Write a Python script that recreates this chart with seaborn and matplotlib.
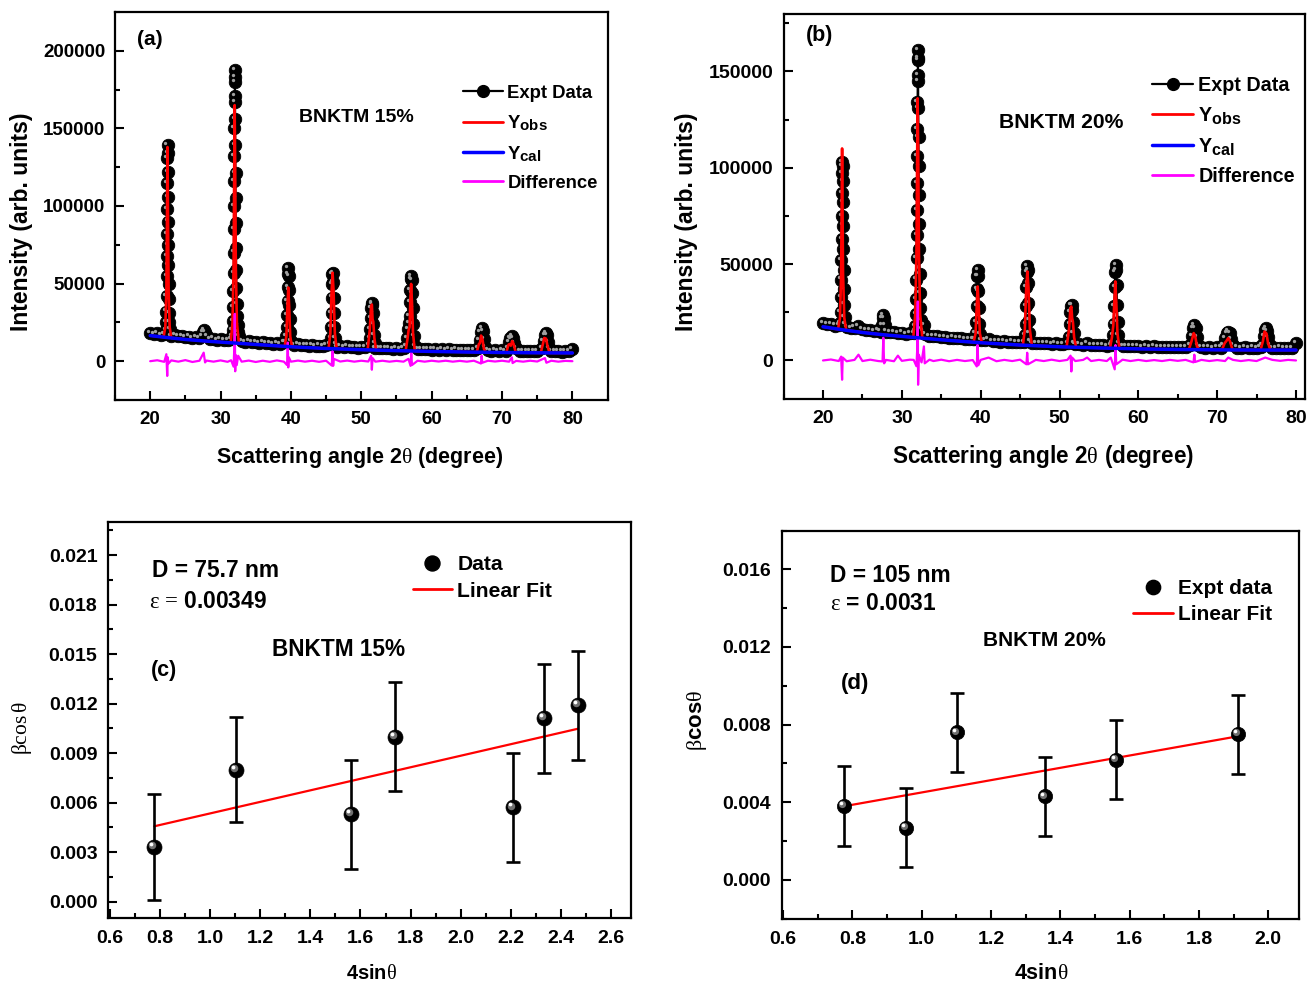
import numpy as np
import pandas as pd
import matplotlib
matplotlib.use("Agg")
import matplotlib.pyplot as plt
import matplotlib.transforms as mtransforms
from matplotlib.lines import Line2D
from matplotlib.ticker import MultipleLocator, FormatStrFormatter
import seaborn as sns

try:
    import matplotlib._mathtext as _mt
    _mt.SHRINK_FACTOR = 0.82
except Exception:
    pass

# ---------------- data: panel (a) BNKTM 15% ----------------
a_bg_tt = [20.0, 20.5, 21.0, 21.5, 22.0, 23.0, 23.5, 24.0, 24.5, 25.0, 25.5, 26.0, 26.5, 27.0,
           28.5, 29.0, 29.5, 30.0, 30.5, 31.0, 31.5, 33.0, 33.5, 34.0, 34.5, 35.0, 35.5, 36.0,
           36.5, 37.0, 37.5, 38.0, 38.5, 39.0, 40.5, 41.0, 41.5, 42.0, 42.5, 43.0, 43.5, 44.0,
           44.5, 45.0, 46.5, 47.0, 47.5, 48.0, 48.5, 49.0, 49.5, 50.0, 50.5, 52.0, 52.5, 53.0,
           53.5, 54.0, 54.5, 55.0, 55.5, 56.0, 58.0, 58.5, 59.0, 59.5, 60.0, 60.5, 61.0, 61.5,
           62.0, 62.5, 63.0, 63.5, 64.0, 64.5, 65.0, 65.5, 66.0, 68.0, 68.5, 69.0, 69.5, 70.0,
           70.5, 72.5, 73.0, 73.5, 74.0, 74.5, 75.0, 77.0, 77.5, 78.0, 78.5, 79.0, 79.5, 80.0]
a_bg_int = [18200, 17600, 17900, 17100, 17300, 16400, 16900, 16000, 16300, 15400, 15900, 15100, 15600, 14800,
            14300, 14600, 13800, 14100, 13600, 13900, 14500, 13000, 12600, 12900, 12200, 12500, 11900, 12200,
            11600, 11900, 11300, 11600, 11100, 12500, 10600, 10900, 10300, 10600, 10100, 10400, 9800, 10100,
            9600, 10200, 9400, 9700, 9200, 9500, 9000, 9300, 8800, 9100, 9000, 8700, 8400, 8700,
            8200, 8500, 8000, 8300, 8000, 8600, 7900, 8100, 7700, 8000, 7500, 7800, 7400, 7700,
            7300, 7600, 7200, 7500, 7100, 7400, 7000, 7300, 7400, 7000, 6800, 7100, 6700, 7000,
            6800, 6800, 6500, 6800, 6400, 6700, 6500, 6600, 6300, 6600, 6200, 6500, 6300, 8000]
a_pk_tt = [22.20, 22.26, 22.30, 22.33, 22.36, 22.38, 22.40, 22.42, 22.44, 22.46, 22.47, 22.49, 22.51,
           22.53, 22.55, 22.57, 22.59, 22.62, 22.65, 22.68, 22.72, 22.78,
           27.40, 27.55, 27.70, 27.85, 28.05,
           31.62, 31.70, 31.75, 31.80, 31.83, 31.86, 31.88, 31.90, 31.92, 31.94, 31.96, 31.98, 32.00,
           32.02, 32.03, 32.05, 32.07, 32.09, 32.11, 32.13, 32.15, 32.17, 32.20, 32.23, 32.26, 32.30,
           32.35, 32.42, 32.50, 32.60,
           39.20, 39.35, 39.42, 39.47, 39.52, 39.56, 39.60, 39.63, 39.67, 39.71, 39.75, 39.80, 39.88, 40.00,
           45.55, 45.65, 45.72, 45.77, 45.82, 45.86, 45.90, 45.95, 46.00, 46.05, 46.10, 46.15, 46.22, 46.35,
           51.10, 51.20, 51.28, 51.35, 51.42, 51.50, 51.58, 51.66, 51.73, 51.80, 51.90,
           56.40, 56.55, 56.65, 56.75, 56.85, 56.92, 56.98, 57.05, 57.12, 57.20, 57.27, 57.33, 57.40, 57.48, 57.60,
           66.60, 66.80, 66.95, 67.10, 67.25, 67.40, 67.60,
           70.85, 71.00, 71.15, 71.30, 71.45, 71.60, 71.75, 71.95,
           75.70, 75.90, 76.05, 76.20, 76.35, 76.50, 76.70]
a_pk_int = [20000, 25000, 32000, 42000, 55000, 68000, 82000, 98000, 115000, 131000, 139000, 134000, 122000,
            106000, 90000, 75000, 62000, 50000, 40000, 31000, 25000, 20500,
            16500, 19000, 20000, 18500, 16000,
            16500, 20000, 26000, 35000, 45000, 57000, 70000, 85000, 100000, 116000, 132000, 150000, 167000,
            180000, 187500, 183000, 171000, 156000, 139000, 121000, 105000, 89000, 73000, 59000, 47000, 37000,
            29000, 23000, 19000, 16500,
            12500, 16000, 22000, 30000, 39000, 48000, 56000, 60000, 55000, 46000, 36000, 27000, 19000, 13000,
            11000, 15000, 22000, 31000, 41000, 50000, 56000, 57000, 51000, 41000, 31000, 22000, 15000, 11000,
            10500, 15000, 21000, 28000, 34000, 37500, 36500, 31000, 24000, 17000, 11500,
            9500, 15000, 21000, 24500, 29000, 38000, 46000, 53000, 55000, 52000, 44000, 34000, 24000, 16000, 10000,
            8500, 13500, 18500, 21500, 19500, 14000, 9000,
            8500, 12500, 15000, 14500, 16200, 15000, 11500, 8500,
            8500, 13000, 17000, 18300, 17000, 12500, 8500]
a_red_tt = [20.0, 21.9, 22.15, 22.30, 22.40, 22.46, 22.52, 22.62, 22.77, 23.0, 27.5,
            31.45, 31.70, 31.85, 31.95, 32.00, 32.07, 32.17, 32.32, 32.60,
            39.10, 39.35, 39.50, 39.62, 39.75, 39.90, 40.15,
            45.35, 45.60, 45.78, 45.92, 46.06, 46.24, 46.50,
            50.90, 51.20, 51.38, 51.50, 51.60, 51.70, 51.85, 52.10,
            56.30, 56.55, 56.72, 56.86, 56.97, 57.08, 57.20, 57.35, 57.60,
            66.40, 66.70, 66.85, 67.02, 67.22, 67.42, 67.70,
            70.60, 70.90, 71.05, 71.25, 71.45, 71.65, 71.95,
            75.50, 75.80, 76.00, 76.25, 76.45, 76.75, 80.0]
a_red_int = [16500, 15510, 22000, 45000, 100000, 138000, 100000, 45000, 22000, 14950, 13100,
             11870, 25000, 60000, 130000, 165000, 130000, 60000, 25000, 11520,
             9570, 16000, 35000, 47500, 35000, 16000, 9270,
             8140, 18000, 45000, 57000, 45000, 18000, 7960,
             7290, 20000, 35000, 36500, 27000, 25500, 15000, 7150,
             6670, 14000, 20000, 22000, 40000, 49800, 38000, 18000, 6540,
             5820, 11000, 11500, 16500, 14000, 8000, 5740,
             5580, 10500, 11000, 10000, 13000, 11000, 5520,
             5380, 11000, 15000, 14500, 10000, 5340, 5300]
a_blue_tt = [20.0, 22.5, 25.0, 27.5, 30.0, 35.0, 40.0, 45.0, 50.0, 55.0, 60.0, 65.0, 70.0, 75.0, 80.0]
a_blue_int = [16500, 15200, 14000, 13100, 12300, 10800, 9300, 8200, 7400, 6800, 6300, 5900, 5600, 5400, 5300]
a_diff_tt = [20, 21, 22, 22.3, 22.42, 22.5, 22.6, 23, 24, 25, 26, 27, 27.6, 27.8, 28, 29, 30, 31, 31.5,
             31.85, 31.95, 32.02, 32.08, 32.15, 32.3, 32.5, 33, 34, 35, 36, 37, 38, 39,
             39.45, 39.55, 39.62, 39.7, 40, 41, 42, 43, 44, 45, 45.8, 45.9, 46.0, 46.1, 47, 48, 49, 50, 51,
             51.4, 51.5, 51.6, 52, 53, 54, 55, 56, 56.7, 57.0, 57.1, 57.2, 58, 59, 60, 61, 62, 63, 64, 65, 66,
             67.0, 67.1, 67.2, 68, 69, 70, 71, 71.4, 71.5, 72, 73, 74, 75, 76.1, 76.3, 77, 78, 79, 80]
a_diff_int = [0, 600, -400, 4500, -9500, 2500, -1500, 500, -300, 700, -500, 300, 5500, -800, 400, -300, 500, -400, 600,
              -3500, 8000, 30500, -6500, 4000, -2500, 3500, -300, 400, -500, 300, -400, 500, -300,
              -2500, 12000, -4000, 2500, -300, 400, -300, 300, -400, 300, -2800, 6500, -3000, 1500, -200, 400, -300, 300, -200,
              3500, -5500, 2000, -300, 300, -300, 200, -300, 1500, -3000, 5500, -2500, 300, -300, 300, -200, 300, -300, 200, -300, 300,
              -1500, 3500, -1000, 300, -200, 300, -300, 2500, -1200, 200, -300, 300, -200, 2000, -1000, 300, -300, 200, 0]

# ---------------- data: panel (b) BNKTM 20% ----------------
b_bg_tt = [20.0, 20.5, 21.0, 21.5, 22.0, 23.0, 23.5, 24.0, 24.5, 25.0, 25.5, 26.0, 26.5, 27.0,
           28.5, 29.0, 29.5, 30.0, 30.5, 31.0, 31.5, 33.0, 33.5, 34.0, 34.5, 35.0, 35.5, 36.0,
           36.5, 37.0, 37.5, 38.0, 38.5, 39.0, 40.5, 41.0, 41.5, 42.0, 42.5, 43.0, 43.5, 44.0,
           44.5, 45.0, 46.5, 47.0, 47.5, 48.0, 48.5, 49.0, 49.5, 50.0, 50.5, 52.0, 52.5, 53.0,
           53.5, 54.0, 54.5, 55.0, 55.5, 56.0, 56.5, 58.0, 58.5, 59.0, 59.5, 60.0, 60.5, 61.0,
           61.5, 62.0, 62.5, 63.0, 63.5, 64.0, 64.5, 65.0, 65.5, 66.0, 68.0, 68.5, 69.0, 69.5,
           70.0, 70.5, 72.5, 73.0, 73.5, 74.0, 74.5, 75.0, 75.5, 77.0, 77.5, 78.0, 78.5, 79.0,
           79.5, 80.0]
b_bg_int = [19200, 18700, 18900, 18100, 18300, 17300, 16900, 17100, 17800, 16200, 15800, 16000, 15400, 15600,
            14700, 14900, 14300, 14500, 13900, 14100, 14000, 13500, 12900, 12500, 12700, 12100, 12300, 11700,
            11900, 11400, 11600, 11100, 11300, 11000, 10400, 11300, 10100, 10300, 9800, 10000, 9600, 9800,
            9400, 9600, 9200, 9000, 9200, 8800, 9000, 8600, 8800, 8500, 8700, 8300, 8500, 8100,
            8900, 8000, 8100, 7800, 8000, 7700, 8200, 7700, 7500, 7700, 7300, 7500, 7200, 7400,
            7100, 7300, 7000, 7200, 6900, 7100, 6900, 7000, 6800, 7000, 6900, 6700, 6900, 6600,
            6800, 6700, 6700, 6500, 6800, 6400, 6700, 6500, 6800, 6600, 6400, 6700, 6300, 6600,
            6400, 9000]
b_pk_tt = [22.15, 22.22, 22.27, 22.31, 22.34, 22.37, 22.39, 22.41, 22.43, 22.45, 22.48, 22.50, 22.52,
           22.54, 22.57, 22.60, 22.63, 22.67, 22.73, 22.85,
           27.30, 27.45, 27.55, 27.65, 27.75, 27.85, 28.00,
           31.62, 31.70, 31.75, 31.80, 31.83, 31.86, 31.88, 31.90, 31.92, 31.94, 31.96, 31.98, 32.00,
           32.02, 32.04, 32.06, 32.08, 32.10, 32.12, 32.14, 32.17, 32.20, 32.23, 32.27, 32.31, 32.36,
           32.43, 32.55, 32.70, 32.85,
           39.20, 39.35, 39.43, 39.49, 39.54, 39.58, 39.63, 39.68, 39.72, 39.77, 39.83, 39.92, 40.05,
           45.50, 45.62, 45.70, 45.76, 45.81, 45.86, 45.91, 45.96, 46.01, 46.06, 46.11, 46.18, 46.30,
           51.10, 51.20, 51.30, 51.38, 51.46, 51.54, 51.62, 51.70, 51.78, 51.90,
           56.65, 56.75, 56.85, 56.93, 56.99, 57.05, 57.12, 57.19, 57.25, 57.31, 57.38, 57.47, 57.60,
           66.60, 66.80, 66.95, 67.10, 67.25, 67.40, 67.60,
           70.80, 71.00, 71.20, 71.40, 71.60, 71.80, 72.00,
           75.70, 75.90, 76.05, 76.20, 76.35, 76.50, 76.70]
b_pk_int = [19500, 25000, 33000, 42000, 52000, 63000, 75000, 87000, 97000, 103000, 101000, 93000, 82000,
            70000, 58000, 47000, 37000, 29000, 22500, 19000,
            15000, 18500, 22000, 23700, 22000, 18500, 15000,
            15000, 18000, 24000, 32000, 42000, 53000, 65000, 78000, 92000, 106000, 120000, 134000, 148000,
            157000, 161000, 156000, 145000, 131000, 116000, 101000, 86000, 71000, 58000, 45000, 35000, 27000,
            21000, 16500, 15500, 18500,
            11000, 14000, 20000, 28000, 37000, 44000, 47000, 44000, 36000, 27000, 19000, 13500, 10500,
            9500, 13000, 19000, 28000, 38000, 46000, 48800, 47000, 40000, 30000, 21000, 14000, 10000,
            8800, 12000, 19000, 25000, 28500, 28900, 26000, 20000, 14000, 9000,
            9000, 13000, 19000, 28000, 38000, 46000, 49700, 47000, 39000, 29000, 20000, 13000, 9000,
            8000, 12500, 17000, 18500, 17000, 12000, 8000,
            7800, 11500, 14000, 15000, 14000, 11000, 8000,
            8000, 12500, 16000, 16800, 15500, 12000, 8000]
b_red_tt = [20.0, 21.9, 22.15, 22.30, 22.42, 22.54, 22.70, 22.95, 27.5,
            31.45, 31.70, 31.85, 31.95, 32.00, 32.07, 32.17, 32.32, 32.60,
            39.10, 39.35, 39.50, 39.62, 39.75, 39.90, 40.15,
            45.35, 45.60, 45.78, 45.92, 46.06, 46.24, 46.50,
            50.90, 51.20, 51.38, 51.50, 51.60, 51.70, 51.85, 52.10,
            56.40, 56.65, 56.82, 56.97, 57.08, 57.20, 57.35, 57.60,
            66.40, 66.75, 67.02, 67.22, 67.42, 67.70,
            70.60, 70.95, 71.15, 71.40, 71.62, 71.95,
            75.50, 75.80, 76.00, 76.25, 76.45, 76.75, 80.0]
b_red_int = [17500, 16140, 22000, 45000, 110000, 45000, 22000, 15650, 13400,
             11980, 24000, 55000, 110000, 136000, 110000, 55000, 24000, 11560,
             9470, 14000, 28000, 38400, 28000, 14000, 9160,
             7940, 16000, 38000, 46200, 38000, 16000, 7730,
             7000, 16000, 27000, 28000, 22000, 20000, 12000, 6850,
             6360, 12000, 18000, 32000, 41000, 30000, 14000, 6240,
             5640, 10000, 14200, 12500, 7500, 5590,
             5490, 9000, 10000, 11600, 10000, 5460,
             5400, 10000, 15000, 14000, 9000, 5400, 5400]
b_blue_tt = [20.0, 22.5, 25.0, 27.5, 30.0, 35.0, 40.0, 45.0, 50.0, 55.0, 60.0, 65.0, 70.0, 75.0, 80.0]
b_blue_int = [17500, 15900, 14500, 13400, 12500, 10700, 9200, 8000, 7100, 6500, 6000, 5700, 5500, 5400, 5400]
b_diff_tt = [20, 21, 22, 22.3, 22.42, 22.5, 23, 24, 24.5, 25, 26, 27, 27.55, 27.65, 27.75, 28, 29, 29.5, 30,
             31, 31.5, 31.85, 31.95, 32.02, 32.06, 32.15, 32.5, 32.8, 32.9, 33.5, 34, 35, 36, 37, 38, 39,
             39.5, 39.6, 39.7, 40, 41, 42, 43, 44, 45, 45.8, 45.9, 46.0, 47, 48, 49, 50, 51,
             51.4, 51.5, 51.6, 52, 53, 53.5, 54, 55, 56, 56.5, 57.0, 57.1, 57.2, 58, 59, 60, 61, 62, 63, 64,
             65, 66, 67.0, 67.1, 67.2, 68, 69, 70, 71, 71.4, 72, 73, 74, 75, 76.1, 77, 78, 79, 80]
b_diff_int = [0, 500, -300, 2000, -10000, 1500, -400, 300, 3000, -300, 400, -300, -500, 11800, -1500, 300, -400, 2500, -200,
              400, 300, -3000, 6000, 30600, -12600, 3000, -1000, 7300, -1500, 400, -300, 400, -400, 300, -300, 200,
              -3100, 8100, -2500, 300, 1500, -400, 300, -300, 400, -2000, 4000, -2000, 300, -300, 400, -300, 300,
              2500, -5700, 1500, -300, 300, 1500, -300, 300, -300, 1500, -4600, 8000, -2000, 400, -300, 300, -300, 200, -300, 300,
              -200, 300, -1000, 3000, -800, 300, -300, 200, -300, 1500, 300, -300, 200, -300, 1500, 300, -200, 300, 0]

# ---------------- data: panel (c) Williamson-Hall, 15% ----------------
c_x = [0.777, 1.103, 1.563, 1.738, 2.208, 2.334, 2.468]
c_y = [0.0033, 0.0080, 0.0053, 0.0100, 0.0057, 0.0111, 0.0119]
c_err = [0.0032, 0.0032, 0.0033, 0.0033, 0.0033, 0.0033, 0.0033]
c_fit_x = [0.777, 2.468]
c_fit_y = [0.00456, 0.01047]

# ---------------- data: panel (d) Williamson-Hall, 20% ----------------
d_x = [0.777, 0.955, 1.103, 1.355, 1.560, 1.912]
d_y = [0.0038, 0.0027, 0.0076, 0.0043, 0.0062, 0.0075]
d_err = [0.00205, 0.00205, 0.00205, 0.00205, 0.00205, 0.00205]
d_fit_x = [0.777, 1.912]
d_fit_y = [0.0038, 0.0074]

# ---------------- style ----------------
sns.set_style("ticks")
plt.rcParams.update({
    "font.family": ["Liberation Sans", "DejaVu Sans"],
    "font.weight": "bold",
    "axes.labelweight": "bold",
    "mathtext.fontset": "custom",
    "mathtext.rm": "Liberation Serif:weight=normal",
    "mathtext.it": "Liberation Serif:italic:weight=normal",
    "mathtext.bf": "Liberation Sans:bold",
    "mathtext.sf": "Liberation Sans:weight=normal",
    "mathtext.default": "rm",
    "axes.edgecolor": "black",
    "axes.linewidth": 1.6,
    "text.color": "black",
    "axes.labelcolor": "black",
    "xtick.color": "black",
    "ytick.color": "black",
})

fig = plt.figure(figsize=(13.08, 9.84), dpi=100)
ax_a = fig.add_axes([0.08792, 0.59350, 0.37661, 0.39431])
ax_b = fig.add_axes([0.59908, 0.59450, 0.39839, 0.39177])
ax_c = fig.add_axes([0.08295, 0.06707, 0.39947, 0.40244])
ax_d = fig.add_axes([0.59809, 0.06626, 0.39541, 0.39461])


def style_axes(ax, xmaj, xmin, ymaj, ymin, xfmt, yfmt, tsize, xpad, ypad):
    ax.xaxis.set_major_locator(MultipleLocator(xmaj))
    ax.xaxis.set_minor_locator(MultipleLocator(xmin))
    ax.yaxis.set_major_locator(MultipleLocator(ymaj))
    ax.yaxis.set_minor_locator(MultipleLocator(ymin))
    ax.xaxis.set_major_formatter(FormatStrFormatter(xfmt))
    ax.yaxis.set_major_formatter(FormatStrFormatter(yfmt))
    ax.tick_params(which="both", direction="in", top=False, right=False, width=1.5, labelsize=tsize)
    ax.tick_params(which="major", length=6.5)
    ax.tick_params(which="minor", length=3.5)
    ax.tick_params(axis="x", which="major", pad=xpad)
    ax.tick_params(axis="y", which="major", pad=ypad)
    for s in ax.spines.values():
        s.set_visible(True)
        s.set_linewidth(1.6)
        s.set_color("black")


def xrd_panel(ax, bg_tt, bg_int, pk_tt, pk_int, red_tt, red_int, blue_tt, blue_int, diff_tt, diff_int):
    obs = pd.concat([pd.DataFrame({"tt": bg_tt, "I": bg_int}),
                     pd.DataFrame({"tt": pk_tt, "I": pk_int})]).sort_values("tt")
    sns.lineplot(data=obs, x="tt", y="I", ax=ax, estimator=None, sort=False, color="black",
                 lw=1.4, marker="o", ms=9.0, mec="black", mew=0.6, mfc="black", zorder=2)
    hl = mtransforms.ScaledTranslation(-1.5 / 72, 1.5 / 72, fig.dpi_scale_trans)
    ax.plot(obs["tt"], obs["I"], ls="none", marker="o", ms=2.4, color="#a0a0a0", mec="none",
            transform=ax.transData + hl, zorder=2.5)
    sns.lineplot(x=red_tt, y=red_int, ax=ax, estimator=None, sort=False, color="#ff0000", lw=1.9, zorder=3)
    sns.lineplot(x=diff_tt, y=diff_int, ax=ax, estimator=None, sort=False, color="#ff00ff", lw=1.6, zorder=3)
    sns.lineplot(x=blue_tt, y=blue_int, ax=ax, estimator=None, sort=False, color="#0000ff", lw=2.5, zorder=4)


def spheres(ax, x, y, ms):
    sns.scatterplot(x=x, y=y, ax=ax, s=ms ** 2, color="black", edgecolor="black", linewidth=0.5, zorder=5)
    o1 = mtransforms.ScaledTranslation(-0.13 * ms / 72, 0.13 * ms / 72, fig.dpi_scale_trans)
    o2 = mtransforms.ScaledTranslation(-0.2 * ms / 72, 0.2 * ms / 72, fig.dpi_scale_trans)
    ax.plot(x, y, ls="none", marker="o", ms=ms * 0.5, color="#707070", mec="none",
            transform=ax.transData + o1, zorder=6)
    ax.plot(x, y, ls="none", marker="o", ms=ms * 0.25, color="white", mec="none",
            transform=ax.transData + o2, zorder=7)


xrd_labels = ["Expt Data", r"Y$_{\mathbf{obs}}$", r"Y$_{\mathbf{cal}}$", "Difference"]


def xrd_legend(ax, anchor, fs, hl_len, spacing):
    handles = [Line2D([], [], color="black", lw=1.6, marker="o", ms=8.5, mfc="black", mec="black"),
               Line2D([], [], color="#ff0000", lw=2.0),
               Line2D([], [], color="#0000ff", lw=2.5),
               Line2D([], [], color="#ff00ff", lw=2.0)]
    ax.legend(handles, xrd_labels, loc="upper left", bbox_to_anchor=anchor, frameon=False,
              fontsize=fs, handlelength=hl_len, handletextpad=0.25, labelspacing=spacing,
              borderpad=0, borderaxespad=0, numpoints=1)


# ---------------- panel (a) ----------------
xrd_panel(ax_a, a_bg_tt, a_bg_int, a_pk_tt, a_pk_int, a_red_tt, a_red_int,
          a_blue_tt, a_blue_int, a_diff_tt, a_diff_int)
ax_a.set_xlim(15, 85)
ax_a.set_ylim(-25000, 225000)
style_axes(ax_a, 10, 5, 50000, 25000, "%d", "%d", 13.5, 8, 7)
ax_a.set_xlabel(r"Scattering angle 2$\theta$ (degree)", fontsize=15.5, va="center")
ax_a.xaxis.set_label_coords(0.497, -0.147)
ax_a.set_ylabel("Intensity (arb. units)", fontsize=16.5, va="center")
ax_a.yaxis.set_label_coords(-0.189, 0.46)
ax_a.text(0.044, 0.930, "(a)", transform=ax_a.transAxes, fontsize=15, ha="left", va="center")
ax_a.text(0.490, 0.728, "BNKTM 15%", transform=ax_a.transAxes, fontsize=14, ha="center", va="center")
xrd_legend(ax_a, (0.7065, 0.812), 13.3, 2.15, 0.6)

# ---------------- panel (b) ----------------
xrd_panel(ax_b, b_bg_tt, b_bg_int, b_pk_tt, b_pk_int, b_red_tt, b_red_int,
          b_blue_tt, b_blue_int, b_diff_tt, b_diff_int)
ax_b.set_xlim(15, 81.1)
ax_b.set_ylim(-20000, 180000)
style_axes(ax_b, 10, 5, 50000, 25000, "%d", "%d", 14, 8, 7.5)
ax_b.set_xlabel(r"Scattering angle 2$\theta$ (degree)", fontsize=16.3, va="center")
ax_b.xaxis.set_label_coords(0.498, -0.150)
ax_b.set_ylabel("Intensity (arb. units)", fontsize=16.5, va="center")
ax_b.yaxis.set_label_coords(-0.187, 0.459)
ax_b.text(0.043, 0.942, "(b)", transform=ax_b.transAxes, fontsize=15.5, ha="left", va="center")
ax_b.text(0.532, 0.7185, "BNKTM 20%", transform=ax_b.transAxes, fontsize=15.2, ha="center", va="center")
xrd_legend(ax_b, (0.707, 0.838), 14.2, 2.1, 0.5)

# ---------------- panel (c) ----------------
sns.lineplot(x=c_fit_x, y=c_fit_y, ax=ax_c, color="#ff0000", lw=1.6, zorder=3)
ax_c.errorbar(c_x, c_y, yerr=c_err, fmt="none", ecolor="black", elinewidth=1.9,
              capsize=4.7, capthick=1.9, zorder=4)
spheres(ax_c, c_x, c_y, 10.8)
ax_c.set_xlim(0.594, 2.68)
ax_c.set_ylim(-0.001, 0.023)
style_axes(ax_c, 0.2, 0.1, 0.003, 0.0015, "%.1f", "%.3f", 14, 8.5, 8)
ax_c.set_xlabel(r"4sin$\theta$", fontsize=14.5, va="center")
ax_c.xaxis.set_label_coords(0.504, -0.141)
ax_c.set_ylabel(r"$\beta\cos\theta$", fontsize=15.5, va="center")
ax_c.yaxis.set_label_coords(-0.166, 0.48)
ax_c.text(0.084, 0.877, "D = 75.7 nm", transform=ax_c.transAxes, fontsize=16.4, ha="left", va="center")
ax_c.text(0.078, 0.800, r"$\varepsilon\,=\,$0.00349", transform=ax_c.transAxes, fontsize=16.4,
          ha="left", va="center")
ax_c.text(0.441, 0.677, "BNKTM 15%", transform=ax_c.transAxes, fontsize=16.3, ha="center", va="center")
ax_c.text(0.081, 0.624, "(c)", transform=ax_c.transAxes, fontsize=15.5, ha="left", va="center")
hc = [Line2D([], [], ls="none", marker="o", ms=10.8, color="black"),
      Line2D([], [], color="#ff0000", lw=2.0)]
ax_c.legend(hc, ["Data", "Linear Fit"], loc="upper left", bbox_to_anchor=(0.582, 0.916), frameon=False,
            fontsize=15.2, handlelength=1.87, handletextpad=0.25, labelspacing=0.35,
            borderpad=0, borderaxespad=0, numpoints=1)

# ---------------- panel (d) ----------------
sns.lineplot(x=d_fit_x, y=d_fit_y, ax=ax_d, color="#ff0000", lw=1.6, zorder=3)
ax_d.errorbar(d_x, d_y, yerr=d_err, fmt="none", ecolor="black", elinewidth=1.9,
              capsize=4.7, capthick=1.9, zorder=4)
spheres(ax_d, d_x, d_y, 10.3)
ax_d.set_xlim(0.598, 2.09)
ax_d.set_ylim(-0.002, 0.018)
style_axes(ax_d, 0.2, 0.1, 0.004, 0.002, "%.1f", "%.3f", 14, 8.5, 8)
ax_d.set_xlabel(r"4sin$\theta$", fontsize=15.5, va="center")
ax_d.xaxis.set_label_coords(0.5, -0.142)
ax_d.set_ylabel(r"$\beta$cos$\theta$", fontsize=16, va="center")
ax_d.yaxis.set_label_coords(-0.165, 0.512)
ax_d.text(0.093, 0.885, "D = 105 nm", transform=ax_d.transAxes, fontsize=16.4, ha="left", va="center")
ax_d.text(0.093, 0.811, r"$\varepsilon$ = 0.0031", transform=ax_d.transAxes, fontsize=16.4,
          ha="left", va="center")
ax_d.text(0.507, 0.718, "BNKTM 20%", transform=ax_d.transAxes, fontsize=15, ha="center", va="center")
ax_d.text(0.114, 0.607, "(d)", transform=ax_d.transAxes, fontsize=16, ha="left", va="center")
hd = [Line2D([], [], ls="none", marker="o", ms=10.3, color="black"),
      Line2D([], [], color="#ff0000", lw=2.0)]
ax_d.legend(hd, ["Expt data", "Linear Fit"], loc="upper left", bbox_to_anchor=(0.678, 0.875), frameon=False,
            fontsize=15, handlelength=1.9, handletextpad=0.25, labelspacing=0.35,
            borderpad=0, borderaxespad=0, numpoints=1)

fig.savefig("out.png", dpi=100)
